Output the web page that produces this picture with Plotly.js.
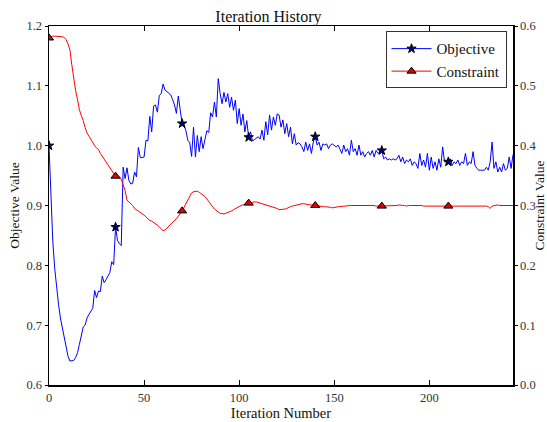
<!DOCTYPE html>
<html>
<head>
<meta charset="utf-8">
<script src="https://cdn.plot.ly/plotly-3.0.1.min.js"></script>
<style>
  html, body { margin: 0; padding: 0; background: #fff; }
  #chart { width: 547px; height: 422px; }
</style>
</head>
<body>
<div id="chart"></div>
<script>
// Objective value per iteration (left axis)
const objective = [
  1.000, 0.905, 0.840, 0.795, 0.762, 0.735, 0.712, 0.695, 0.677, 0.660,
  0.648, 0.640, 0.640, 0.641, 0.646, 0.654, 0.668, 0.683, 0.697, 0.700,
  0.712, 0.718, 0.722, 0.728, 0.758, 0.746, 0.757, 0.756, 0.782, 0.771,
  0.776, 0.782, 0.788, 0.806, 0.801, 0.864, 0.842, 0.836, 0.833, 0.964,
  0.945, 0.963, 0.942, 0.936, 0.937, 0.956, 0.948, 0.997, 0.980, 0.980,
  0.981, 1.009, 1.008, 1.049, 1.023, 1.066, 1.068, 1.056, 1.084, 1.087,
  1.103, 1.093, 1.090, 1.088, 1.085, 1.077, 1.068, 1.054, 1.083, 1.060,
  1.037, 1.034, 1.025, 1.009, 1.005, 0.982, 1.031, 0.981, 1.017, 0.990,
  1.015, 0.995, 1.008, 1.025, 1.022, 1.055, 1.048, 1.073, 1.048, 1.112,
  1.087, 1.070, 1.089, 1.073, 1.087, 1.064, 1.081, 1.059, 1.076, 1.037,
  1.062, 1.034, 1.053, 1.023, 1.042, 1.014, 1.023, 1.008, 1.010, 1.012,
  1.015, 1.011, 1.026, 1.009, 1.040, 1.018, 1.051, 1.026, 1.048, 1.034,
  1.053, 1.051, 1.031, 1.043, 1.020, 1.037, 1.015, 1.031, 1.003, 1.020,
  1.001, 1.005, 1.003, 0.998, 0.990, 1.006, 0.992, 1.003, 0.987, 1.006,
  1.015, 1.001, 1.006, 0.992, 1.003, 1.001, 1.003, 0.995, 1.001, 1.003,
  1.001, 0.998, 1.001, 0.995, 0.987, 1.001, 0.990, 0.995, 0.984, 1.009,
  0.990, 0.995, 0.984, 1.001, 0.984, 0.990, 0.981, 0.987, 0.990, 0.984,
  0.992, 0.981, 0.992, 0.987, 0.990, 0.992, 0.978, 0.981, 0.976, 0.978,
  0.976, 0.978, 0.976, 0.978, 0.984, 0.973, 0.981, 0.970, 0.976, 0.973,
  0.978, 0.967, 0.973, 0.970, 0.962, 0.987, 0.967, 0.976, 0.964, 0.987,
  0.959, 0.981, 0.962, 0.973, 0.959, 0.978, 0.964, 0.998, 0.973, 0.973,
  0.973, 0.978, 0.967, 0.973, 0.970, 0.976, 0.967, 0.973, 0.970, 0.987,
  0.967, 0.973, 0.970, 0.990, 0.967, 0.962, 0.959, 0.959, 0.959, 0.959,
  0.964, 0.959, 0.973, 1.006, 0.962, 0.973, 0.956, 0.964, 0.956, 0.970,
  0.959, 0.962, 0.981, 0.962, 0.985
];

// Constraint value per iteration (right axis)
const constraint = [
  0.580, 0.582, 0.583, 0.583, 0.583, 0.583, 0.583, 0.582, 0.581, 0.577,
  0.570, 0.560, 0.535, 0.510, 0.492, 0.477, 0.460, 0.450, 0.442, 0.430,
  0.421, 0.416, 0.410, 0.404, 0.400, 0.396, 0.394, 0.387, 0.382, 0.377,
  0.373, 0.367, 0.364, 0.358, 0.354, 0.349, 0.349, 0.348, 0.344, 0.335,
  0.325, 0.309, 0.306, 0.303, 0.300, 0.295, 0.293, 0.290, 0.288, 0.286,
  0.284, 0.281, 0.278, 0.275, 0.274, 0.272, 0.270, 0.267, 0.264, 0.261,
  0.258, 0.259, 0.262, 0.266, 0.269, 0.272, 0.275, 0.278, 0.282, 0.286,
  0.291, 0.297, 0.303, 0.311, 0.317, 0.321, 0.323, 0.324, 0.324, 0.322,
  0.320, 0.317, 0.315, 0.311, 0.306, 0.302, 0.298, 0.294, 0.291, 0.289,
  0.287, 0.286, 0.286, 0.287, 0.288, 0.289, 0.291, 0.293, 0.295, 0.297,
  0.299, 0.300, 0.301, 0.302, 0.303, 0.304, 0.305, 0.306, 0.306, 0.306,
  0.305, 0.305, 0.304, 0.303, 0.302, 0.301, 0.300, 0.299, 0.298, 0.296,
  0.295, 0.293, 0.293, 0.294, 0.294, 0.295, 0.297, 0.298, 0.299, 0.300,
  0.301, 0.302, 0.302, 0.303, 0.303, 0.302, 0.302, 0.301, 0.301, 0.300,
  0.300, 0.300, 0.299, 0.299, 0.298, 0.298, 0.298, 0.297, 0.297, 0.296,
  0.297, 0.297, 0.298, 0.298, 0.299, 0.299, 0.299, 0.300, 0.300, 0.300,
  0.300, 0.301, 0.301, 0.301, 0.301, 0.301, 0.301, 0.301, 0.301, 0.300,
  0.300, 0.300, 0.299, 0.299, 0.299, 0.299, 0.299, 0.300, 0.299, 0.300,
  0.300, 0.300, 0.300, 0.300, 0.301, 0.300, 0.300, 0.300, 0.299, 0.300,
  0.300, 0.300, 0.300, 0.301, 0.300, 0.300, 0.300, 0.299, 0.299, 0.299,
  0.299, 0.300, 0.299, 0.299, 0.300, 0.299, 0.299, 0.299, 0.299, 0.299,
  0.299, 0.299, 0.299, 0.300, 0.299, 0.299, 0.299, 0.300, 0.299, 0.299,
  0.299, 0.300, 0.300, 0.300, 0.300, 0.300, 0.300, 0.300, 0.300, 0.300,
  0.299, 0.298, 0.295, 0.299, 0.300, 0.300, 0.301, 0.300, 0.300, 0.301,
  0.300, 0.301, 0.300, 0.300, 0.300
];

// Iteration numbers and axis ticks
const iterations = objective.map((_, i) => i);
const markerEvery = 35;
const xTicks = [0, 50, 100, 150, 200];
const yTicks = [0.6, 0.7, 0.8, 0.9, 1.0, 1.1, 1.2];
const y2Ticks = [0.0, 0.1, 0.2, 0.3, 0.4, 0.5, 0.6];

const marked = iterations.filter(i => i % markerEvery === 0);
const serif = 'Liberation Serif, Times New Roman, serif';

const traces = [
  {
    x: iterations, y: objective, name: 'Objective',
    type: 'scatter', mode: 'lines+markers', cliponaxis: true,
    line: { color: '#0000ff', width: 1 },
    marker: { symbol: 'star', size: 7, color: '#000080', line: { color: '#000', width: 1 } },
    selectedpoints: marked,
    selected: { marker: { opacity: 1 } },
    unselected: { marker: { opacity: 0 } },
    yaxis: 'y'
  },
  {
    x: iterations, y: constraint, name: 'Constraint',
    type: 'scatter', mode: 'lines+markers', cliponaxis: true,
    line: { color: '#ff0000', width: 1 },
    marker: { symbol: 'triangle-up', size: 8, color: '#e00000', line: { color: '#000', width: 1 } },
    selectedpoints: marked,
    selected: { marker: { opacity: 1 } },
    unselected: { marker: { opacity: 0 } },
    yaxis: 'y2'
  }
];

const layout = {
  width: 547, height: 422,
  margin: { l: 49, r: 34, t: 26, b: 37 },
  paper_bgcolor: '#fff', plot_bgcolor: '#fff',
  font: { family: serif, size: 12, color: '#222' },
  showlegend: true,
  title: {
    text: 'Iteration History',
    font: { family: serif, size: 16, color: '#111' },
    xref: 'paper', x: 0.473, xanchor: 'center',
    yref: 'container', y: 0.96, yanchor: 'middle'
  },
  xaxis: {
    range: [0, 244], tickvals: xTicks, ticktext: xTicks.map(String),
    showline: true, linecolor: '#000', linewidth: 1.5, mirror: 'ticks',
    ticks: 'inside', ticklen: 5, tickcolor: '#000', tickwidth: 1,
    showgrid: false, zeroline: false,
    tickfont: { family: serif, size: 12.5, color: '#333' },
    title: { text: 'Iteration Number', font: { family: serif, size: 14.5, color: '#111' }, standoff: 4 }
  },
  yaxis: {
    range: [0.6, 1.2], tickvals: yTicks, ticktext: yTicks.map(v => v.toFixed(1)),
    showline: true, linecolor: '#000', linewidth: 1.5,
    ticks: 'outside', ticklen: 3, tickcolor: '#000',
    showgrid: false, zeroline: false,
    tickfont: { family: serif, size: 12.5, color: '#333' },
    title: { text: 'Objective Value', font: { family: serif, size: 13.5, color: '#111' }, standoff: 3 }
  },
  yaxis2: {
    range: [0, 0.6], tickvals: y2Ticks, ticktext: y2Ticks.map(v => v.toFixed(1)),
    overlaying: 'y', side: 'right',
    showline: true, linecolor: '#000', linewidth: 1.5,
    ticks: 'outside', ticklen: 3, tickcolor: '#000',
    showgrid: false, zeroline: false,
    tickfont: { family: serif, size: 12.5, color: '#333' },
    title: { text: 'Constraint Value', font: { family: serif, size: 13.5, color: '#111' }, standoff: 6 }
  },
  legend: {
    x: 0.986, xanchor: 'right', y: 0.985, yanchor: 'top',
    bordercolor: '#333', borderwidth: 1, bgcolor: '#fff',
    font: { family: serif, size: 15, color: '#111' },
    tracegroupgap: 0, itemwidth: 40
  }
};

Plotly.newPlot('chart', traces, layout, { staticPlot: true, displayModeBar: false });
</script>
</body>
</html>
